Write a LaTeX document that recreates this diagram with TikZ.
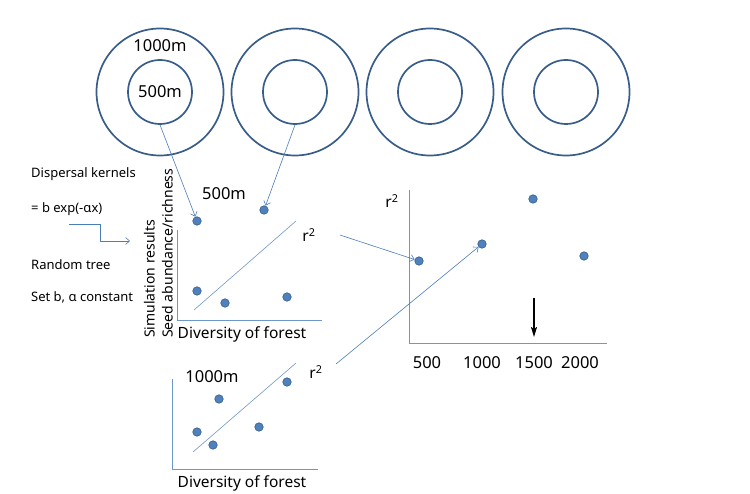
\documentclass[tikz,border=0pt]{standalone}
\usepackage{fontspec}
\setmainfont{Noto Sans}
\usetikzlibrary{arrows.meta}
\definecolor{ringblue}{RGB}{56,93,138}
\definecolor{dotblue}{RGB}{79,129,189}
\definecolor{lineblue}{RGB}{74,126,187}
\begin{document}
\begin{tikzpicture}[x=1pt, y=-1pt, >={Straight Barb[length=4pt,width=7pt]},
    every node/.style={font=\fontsize{15.5}{18}\selectfont, inner sep=0pt},
    num/.style={font=\fontsize{16.5}{18}\selectfont},
    ring/.style={circle, draw=ringblue, line width=1.7pt, minimum size=#1},
    dot/.style={circle, fill=dotblue, draw=ringblue, line width=0.6pt, minimum size=8.5pt},
    axis/.style={lineblue!80, line width=0.6pt},
    link/.style={->, lineblue, line width=0.6pt},
    note/.style={anchor=west, font=\fontsize{13}{15}\selectfont}]

    \useasboundingbox (0,0) rectangle (750,494);

    % landscapes: 500m and 1000m rings
    \foreach \cx [count=\i] in {160,295,430,566} {
        \node[ring=127pt] (o\i) at (\cx,92) {};
        \node[ring=64pt] (i\i) at (\cx,92) {};
    }
    \node[num] at (i1) {500m};
    \node[num] (lab1000) at (160,46) {1000m};

    % model description
    \node[note] (kern) at (31,174) {Dispersal kernels};
    \node[note] (expf) at (31,209) {= b exp(-αx)};
    \node[note] (rand) at (31,265) {Random tree};
    \node[note] (setb) at (31,297) {Set b, α constant};
    \coordinate (k0) at (69,224);
    \coordinate (k1) at (130,241);
    \draw[link] (k0) -- (100,224) |- (k1);

    % scatter 500m
    \coordinate (p1o) at (177,320);
    \draw[axis] (177,230) -- (p1o) -- (322,320);
    \draw[axis] (194,310) -- (296,221);
    \node[dot] (a1) at (197,221) {};
    \node[dot] (a2) at (264,210) {};
    \node[dot] (a3) at (197,291) {};
    \node[dot] (a4) at (225,303) {};
    \node[dot] (a5) at (287,297) {};
    \node[num] (lab500) at (224,194) {500m};
    \node (r1) at (309,235) {r\textsuperscript{2}};
    \node (x1) at (242,334) {Diversity of forest};
    \node[rotate=90, align=left, anchor=south west, font=\fontsize{14}{18}\selectfont]
        (ylab) at (173,338) {Simulation results\\Seed abundance/richness};

    % scatter 1000m
    \coordinate (p2o) at (172,469);
    \draw[axis] (172,379) -- (p2o) -- (318,469);
    \draw[axis] (193,452) -- (296,363);
    \node[dot] (b1) at (197,432) {};
    \node[dot] (b2) at (219,399) {};
    \node[dot] (b3) at (213,445) {};
    \node[dot] (b4) at (259,427) {};
    \node[dot] (b5) at (287,382) {};
    \node[num] (lab1000b) at (212,377) {1000m};
    \node (r2) at (316,372) {r\textsuperscript{2}};
    \node (x2) at (242,483) {Diversity of forest};

    % r^2 against scale
    \coordinate (p3o) at (409,343);
    \draw[axis] (409,190) -- (p3o) -- (607,343);
    \node[dot] (c1) at (419,261) {};
    \node[dot] (c2) at (482,244) {};
    \node[dot] (c3) at (533,199) {};
    \node[dot] (c4) at (584,256) {};
    \node (r3) at (392,201) {r\textsuperscript{2}};
    \foreach \sx/\sl in {427/500, 482/1000, 534/1500, 580/2000}
        \node[num] (t\sl) at (\sx,363) {\sl};
    \coordinate (best0) at (534,298);
    \coordinate (best1) at (534,337);
    \draw[-{Stealth[length=10pt,width=6pt,inset=2pt]}, line width=1.6pt] (best0) -- (best1);

    % connectors
    \draw[link] (i1.south) -- (a1);
    \draw[link] (i2.south) -- (a2);
    \coordinate (s1) at (340,235);
    \coordinate (s2) at (336,364);
    \draw[link] (s1) -- (c1);
    \draw[link] (s2) -- (c2);

\end{tikzpicture}
\end{document}
